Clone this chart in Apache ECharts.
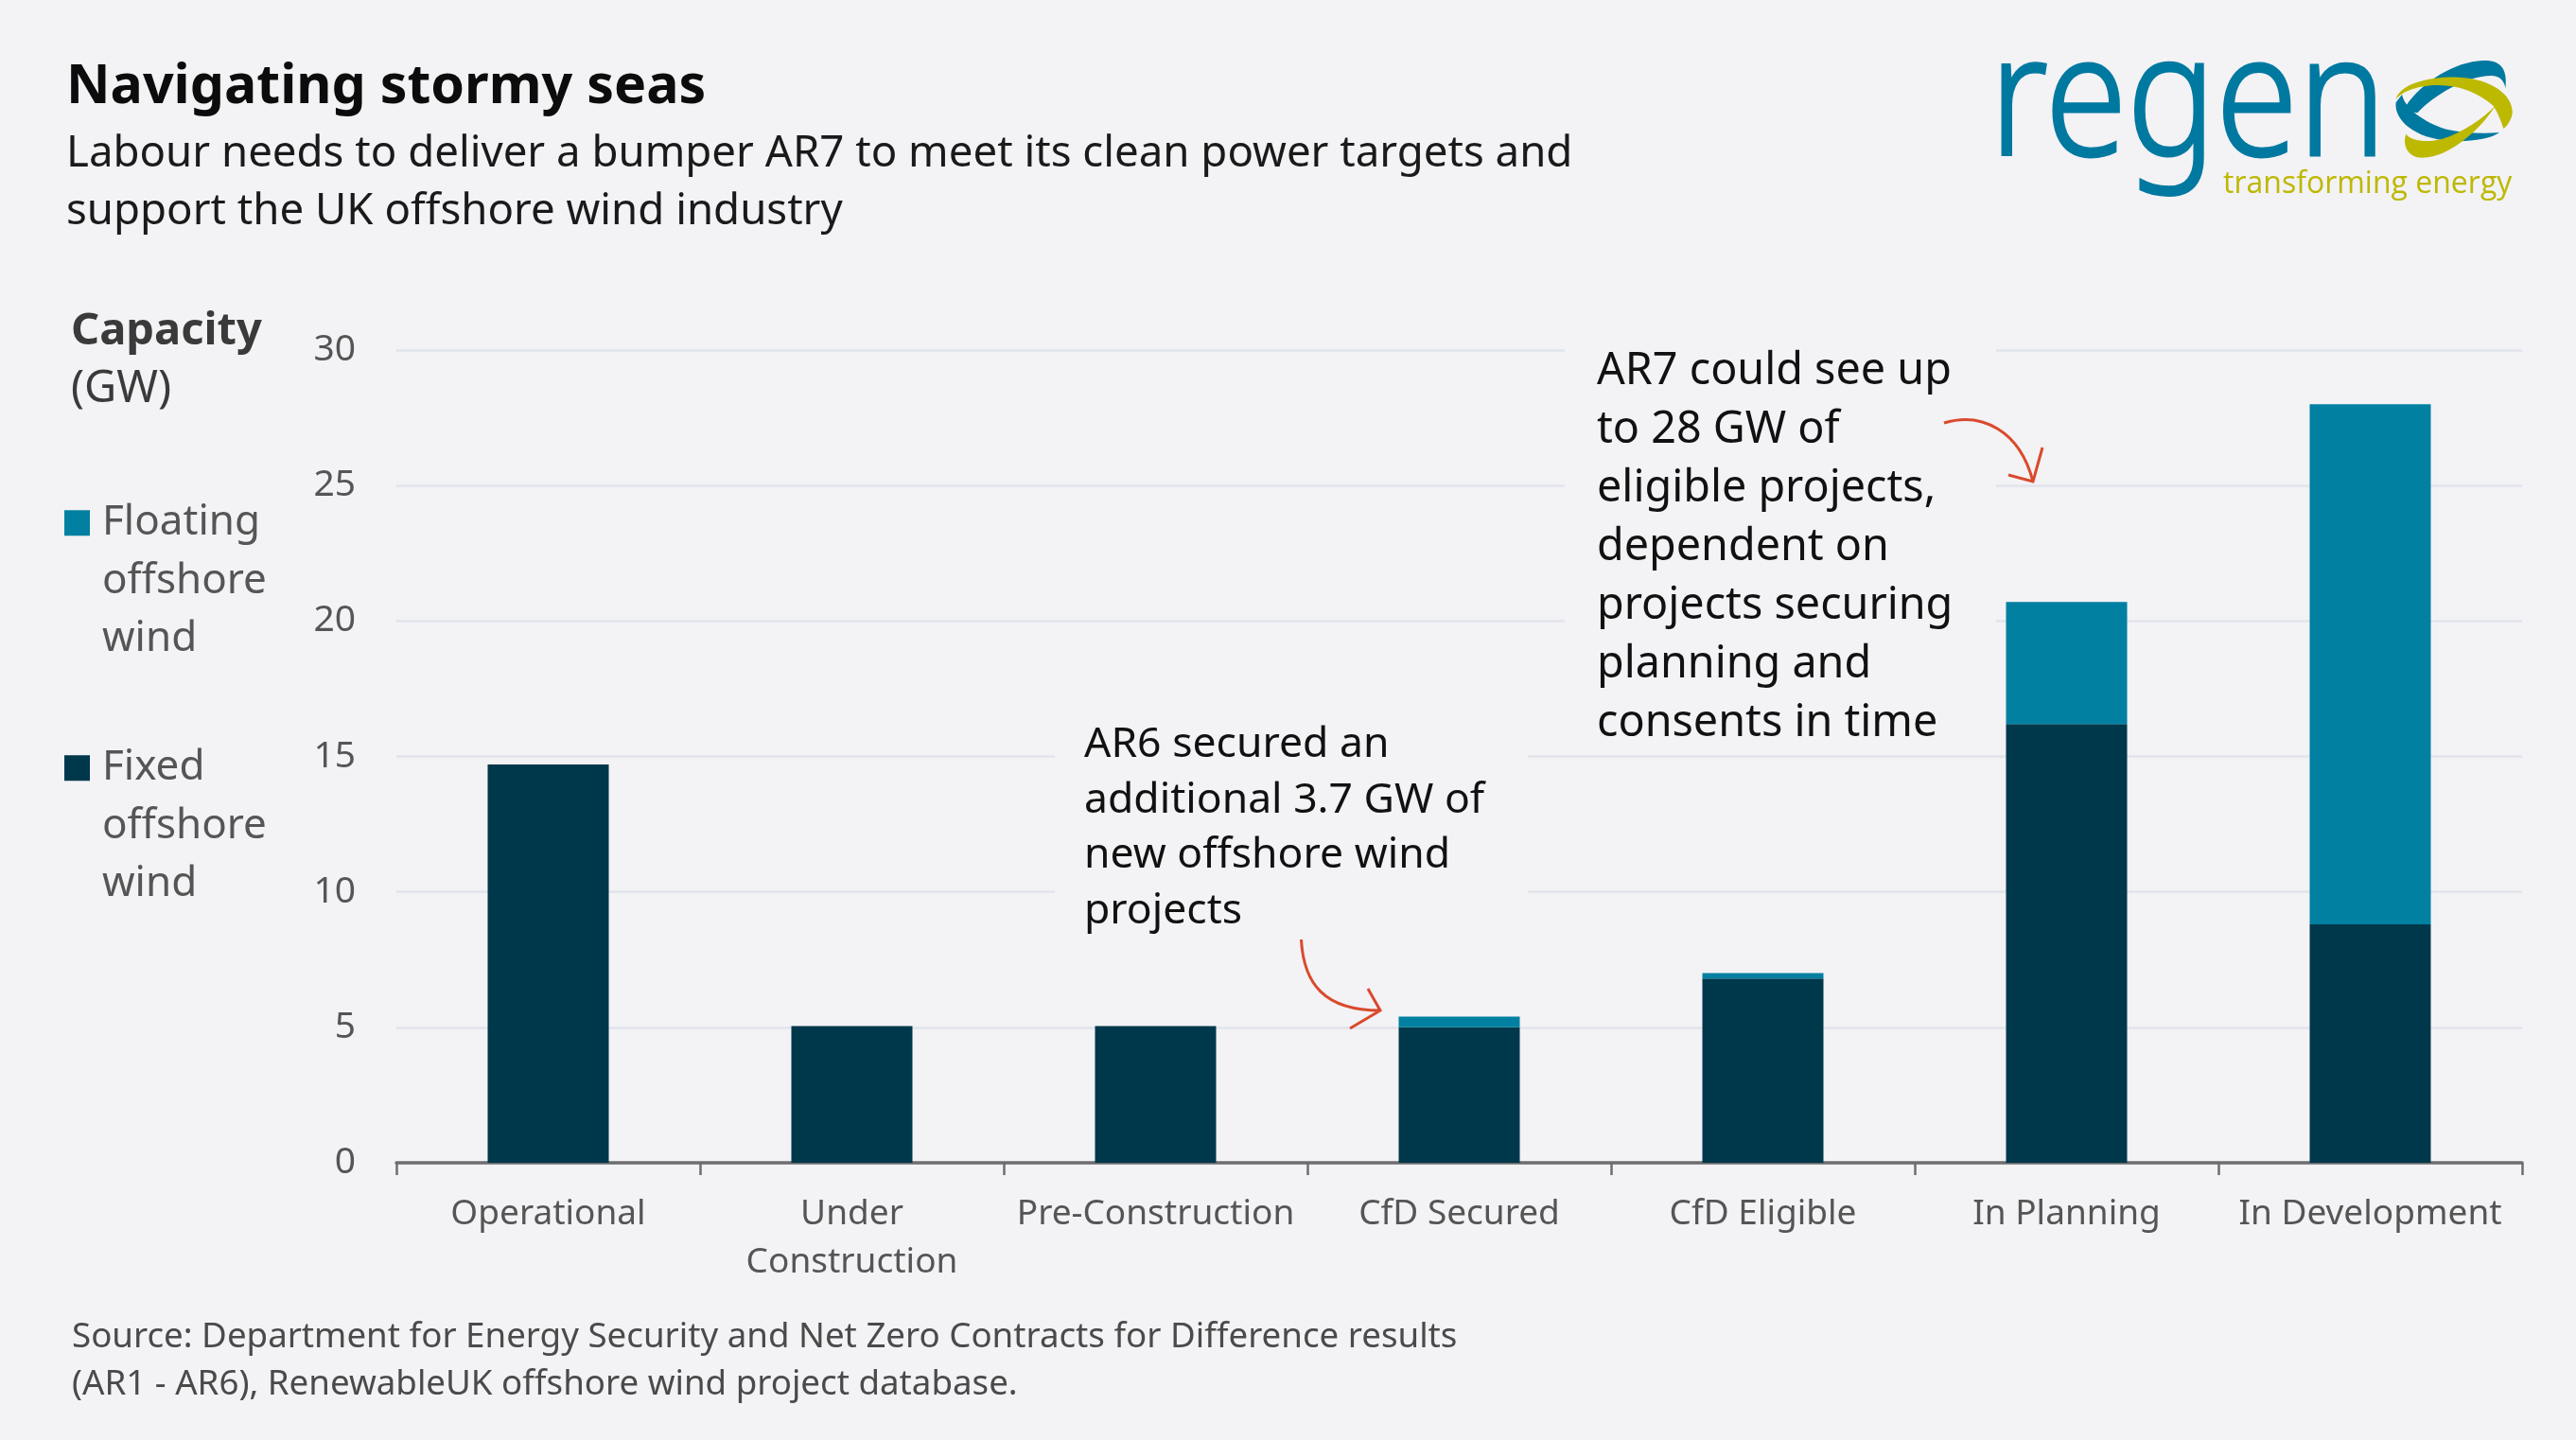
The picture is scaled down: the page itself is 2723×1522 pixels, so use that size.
<!DOCTYPE html>
<html>
<head>
<meta charset="utf-8">
<title>Navigating stormy seas</title>
<script src="https://cdn.jsdelivr.net/npm/echarts@6/dist/echarts.min.js"></script>
<style>
html,body{margin:0;padding:0;background:#f3f2f5;}
#chart{width:2723px;height:1522px;}
</style>
</head>
<body>
<div id="chart"></div>
<script>
// 数据
const categories = ['Operational', 'Under\nConstruction', 'Pre-Construction', 'CfD Secured', 'CfD Eligible', 'In Planning', 'In Development'];
const fixedValues = [14.7, 5.05, 5.05, 5.0, 6.8, 16.2, 8.8];
const floatingValues = [0, 0, 0, 0.4, 0.2, 4.5, 19.2];
const yTicks = [0, 5, 10, 15, 20, 25, 30];

const FONT = '"Noto Sans", sans-serif';
const BG = '#f3f2f5';
const FIXED = '#00384b';
const FLOATING = '#0180a2';
const ARROW = '#d94a2c';

function txt(text, x, y, size, color, lineHeight, weight) {
    return {
        type: 'text', x: x, y: y, z: 10, silent: true,
        style: {
            text: text, fontFamily: FONT, fontSize: size, fontWeight: weight || 'normal',
            fill: color, lineHeight: lineHeight, textVerticalAlign: 'top'
        }
    };
}
function cover(x, y, w, h) {
    return { type: 'rect', z: 1, silent: true, shape: { x: x, y: y, width: w, height: h }, style: { fill: BG } };
}
// graphic 组件没有 path 类型，自己注册
let shapeCount = 0;
function svgShape(d, style) {
    const name = 'svgShape' + (shapeCount++);
    echarts.graphic.registerShape(name, echarts.graphic.extendPath(d, {}));
    return { type: name, z: 10, silent: true, style: style };
}
function arrow(d) {
    return svgShape(d, { fill: 'none', stroke: ARROW, lineWidth: 3 });
}
// 图例方块对齐第一行文字：前面补两个空行
function legendItem(name, top) {
    return {
        data: [name], left: 68, top: top, padding: 0, icon: 'rect', itemWidth: 27, itemHeight: 27,
        formatter: n => '\n\n' + n.split(' ').join('\n'),
        textStyle: { fontFamily: FONT, fontSize: 44, color: '#555555', lineHeight: 61.5, padding: [0, 0, 0, 8] }
    };
}

const chart = echarts.init(document.getElementById('chart'));
const option = {
    backgroundColor: BG,
    animation: false,
    textStyle: { fontFamily: FONT },
    grid: { left: 419, right: 57, top: 370, bottom: 293 },
    legend: [legendItem('Floating offshore wind', 399), legendItem('Fixed offshore wind', 658)],
    xAxis: {
        type: 'category',
        data: categories,
        axisLine: { lineStyle: { color: '#6e6d70', width: 3.5 } },
        axisTick: { show: true, length: 13, lineStyle: { color: '#6e6d70', width: 2.5 } },
        axisLabel: { fontFamily: FONT, fontSize: 37, color: '#555555', lineHeight: 51, margin: 29, interval: 0 }
    },
    yAxis: {
        type: 'value', min: 0, max: 30, interval: 5,
        axisLine: { show: false }, axisTick: { show: false },
        splitLine: { lineStyle: { color: '#e2e4ec', width: 2.6 } },
        axisLabel: { fontFamily: FONT, fontSize: 39, color: '#555555', margin: 43, padding: [3, 0, 0, 0],
            formatter: v => yTicks.includes(v) ? String(v) : '' }
    },
    series: [
        { name: 'Fixed offshore wind', type: 'bar', stack: 'cap', barWidth: 128, itemStyle: { color: FIXED }, data: fixedValues },
        { name: 'Floating offshore wind', type: 'bar', stack: 'cap', barWidth: 128, itemStyle: { color: FLOATING }, data: floatingValues }
    ],
    graphic: [
        cover(1115, 770, 500, 210),
        cover(1654, 355, 456, 440),

        txt('Navigating stormy seas', 70, 63, 57.3, '#0c0c0c', 60, 'bold'),
        txt('Labour needs to deliver a bumper AR7 to meet its clean power targets and\nsupport the UK offshore wind industry', 70, 132, 45.6, '#1a1a1a', 61.5),
        txt('Capacity', 75, 320, 47, '#3a3a3a', 61, 'bold'),
        txt('(GW)', 75, 381, 47, '#3a3a3a', 61),
        txt('AR6 secured an\nadditional 3.7 GW of\nnew offshore wind\nprojects', 1146, 758, 44.5, '#111111', 58.7),
        txt('AR7 could see up\nto 28 GW of\neligible projects,\ndependent on\nprojects securing\nplanning and\nconsents in time', 1688, 362, 46.7, '#111111', 62),
        txt('Source: Department for Energy Security and Net Zero Contracts for Difference results\n(AR1 - AR6), RenewableUK offshore wind project database.', 76, 1389, 36.7, '#4a4a4a', 50),

        arrow('M1375.5,993 C1378,1040 1400,1068 1459,1068 M1446,1045 L1459,1068 L1427,1087'),
        arrow('M2055,447 C2095,435 2135,455 2149,509 M2159,473 L2149,509 L2123,502'),

        // logo
        {
            type: 'group', x: 2050, y: 30, scaleX: 0.429, scaleY: 0.3333, silent: true, z: 10,
            children: [
                svgShape('M1395,190 C1400,130 1385,100 1340,102 C1270,105 1190,170 1150,245 C1145,255 1165,265 1178,268 C1220,210 1300,150 1360,150 C1380,150 1392,165 1395,190 Z', { fill: '#0079a0' }),
                svgShape('M1125,235 C1120,290 1170,350 1260,357 C1310,360 1360,350 1380,330 C1330,335 1290,330 1250,320 C1210,305 1150,265 1140,210 Z', { fill: '#0079a0' }),
                svgShape('M1125,225 C1135,175 1210,152 1280,155 C1360,160 1412,210 1412,265 C1412,285 1400,310 1390,318 C1385,295 1375,265 1365,245 C1330,205 1280,180 1230,180 C1180,180 1140,200 1125,225 Z', { fill: '#bdb800' }),
                svgShape('M1370,245 C1340,310 1260,410 1190,410 C1155,410 1140,370 1150,335 C1160,355 1200,365 1240,350 C1290,330 1340,285 1370,245 Z', { fill: '#bdb800' })
            ]
        },
        {
            type: 'text', x: 2103, y: 24, scaleX: 0.826, scaleY: 0.94, silent: true, z: 10,
            style: { text: 'regen', fontFamily: FONT, fontWeight: 300, fontSize: 190, fill: '#0079a0', stroke: '#0079a0', lineWidth: 3, textVerticalAlign: 'top' }
        },
        {
            type: 'text', x: 2350, y: 179, silent: true, z: 10,
            style: { text: 'transforming energy', fontFamily: '"Open Sans", sans-serif', fontSize: 32, fill: '#bdb800', textVerticalAlign: 'top' }
        }
    ]
};
chart.setOption(option);
window.addEventListener('resize', () => chart.resize());
</script>
</body>
</html>
